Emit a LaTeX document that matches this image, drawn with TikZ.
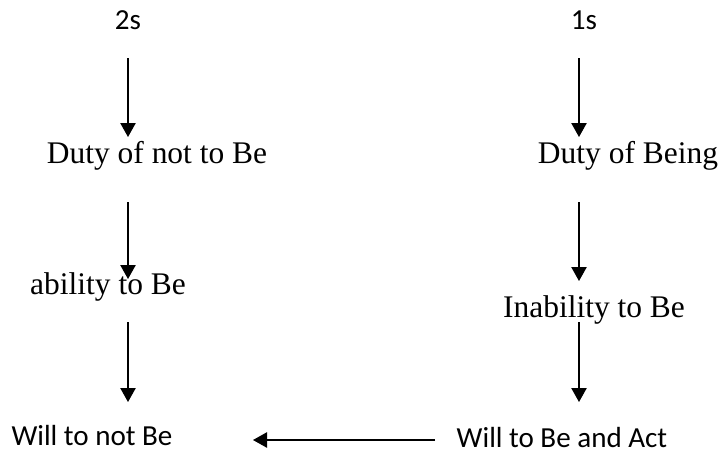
\documentclass[tikz,border=0pt]{standalone}
\usepackage{fontspec}
\setmainfont{Liberation Serif}
\newfontfamily\calfont{Carlito}
\usetikzlibrary{arrows.meta}
\begin{document}
\begin{tikzpicture}[x=0.75pt,y=-0.75pt,
  serif/.style={inner sep=0pt, anchor=base, font=\fontsize{23.6}{28}\selectfont},
  sans/.style={inner sep=0pt, anchor=base, font=\calfont\fontsize{21.8}{26}\selectfont},
  arr/.style={-{Triangle[length=10.5pt,width=11.5pt]}, line width=1pt}]
\useasboundingbox (0,0) rectangle (720,454);
% nodes
\node[sans]  (n2s)   at (128,29)  {2s};
\node[sans]  (n1s)   at (584,29)  {1s};
\node[serif] (dnot)  at (157,163) {Duty of not to Be};
\node[serif] (dbe)   at (628,163) {Duty of Being};
\node[serif] (abil)  at (108,294) {ability to Be};
\node[serif] (inab)  at (594,317) {Inability to Be};
\node[sans]  (wnot)  at (92,445)  {Will to not Be};
\node[sans]  (wbe)   at (562,447) {Will to Be and Act};
% arrow end points
\coordinate (l1s) at (128,58);  \coordinate (l1e) at (128,137);
\coordinate (l2s) at (128,202); \coordinate (l2e) at (128,279);
\coordinate (l3s) at (128,322); \coordinate (l3e) at (128,402);
\coordinate (r1s) at (579,58);  \coordinate (r1e) at (579,137);
\coordinate (r2s) at (579,202); \coordinate (r2e) at (579,281);
\coordinate (r3s) at (579,322); \coordinate (r3e) at (579,402);
\coordinate (hs) at (435,440);  \coordinate (he) at (253,440);
% connectors
\draw[arr] (l1s) -- (l1e);
\draw[arr] (l2s) -- (l2e);
\draw[arr] (l3s) -- (l3e);
\draw[arr] (r1s) -- (r1e);
\draw[arr] (r2s) -- (r2e);
\draw[arr] (r3s) -- (r3e);
\draw[arr] (hs) -- (he);
\end{tikzpicture}
\end{document}
